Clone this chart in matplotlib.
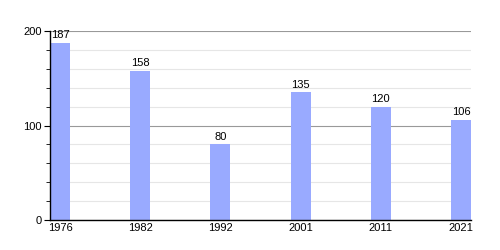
import matplotlib
matplotlib.use("Agg")
import matplotlib.pyplot as plt
from matplotlib.ticker import MultipleLocator

years = ["1976", "1982", "1992", "2001", "2011", "2021"]
population = [187, 158, 80, 135, 120, 106]

plt.rcParams['font.family'] = ['Liberation Sans', 'DejaVu Sans']

fig = plt.figure(figsize=(5, 2.5), dpi=100)
ax = fig.add_axes([0.1, 0.12, 0.842, 0.756])

x = range(len(years))
ax.bar(x, population, width=0.25, color='#99aaff', zorder=2)
for i, v in enumerate(population):
    ax.text(i, v + 3, str(v), ha='center', va='bottom', fontsize=8)

ax.set_xlim(-0.125, len(years) - 1 + 0.125)
ax.set_ylim(0, 200)
ax.set_xticks(list(x))
ax.set_xticklabels(years)
ax.yaxis.set_major_locator(MultipleLocator(100))
ax.yaxis.set_minor_locator(MultipleLocator(20))

ax.grid(axis='y', which='major', color='#999999', linewidth=0.8, zorder=0)
ax.grid(axis='y', which='minor', color='#e6e6e6', linewidth=0.8, zorder=0)
ax.set_axisbelow(True)

for s in ['top', 'right']:
    ax.spines[s].set_visible(False)
ax.spines['left'].set_linewidth(1)
ax.spines['bottom'].set_linewidth(1)
ax.tick_params(axis='x', length=0, labelsize=8, pad=2)
ax.tick_params(axis='y', which='major', length=4, labelsize=8, pad=2)
ax.tick_params(axis='y', which='minor', length=3)

fig.savefig("out.png", dpi=100)
